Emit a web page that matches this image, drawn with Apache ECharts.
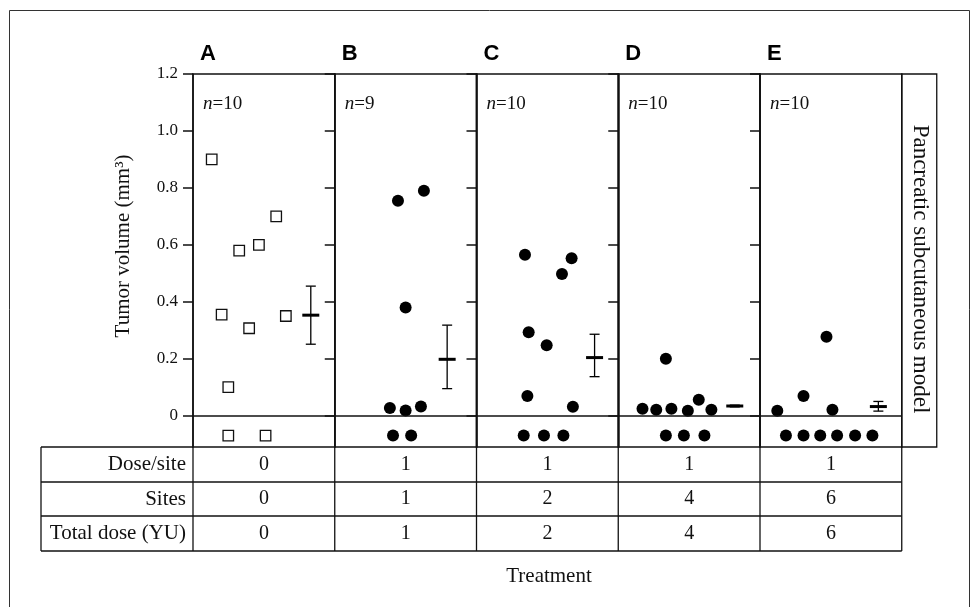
<!DOCTYPE html>
<html>
<head>
<meta charset="utf-8">
<script src="https://cdn.jsdelivr.net/npm/echarts@6/dist/echarts.min.js"></script>
<style>
  html, body { margin: 0; padding: 0; background: #fff; }
  #chart { width: 975px; height: 607px; }
</style>
</head>
<body>
<div id="chart"></div>
<script>
const groups = ['A', 'B', 'C', 'D', 'E'];
const nPerGroup = [10, 9, 10, 10, 10];
const yTicks = [0, 0.2, 0.4, 0.6, 0.8, 1.0, 1.2];

// tumor volume per animal (0 = no tumor, drawn in the strip under the zero line)
// pos = horizontal place of the dot inside its panel (0..10)
const volA = [0.90, 0.355, 0.10, 0.58, 0.307, 0.60, 0.70, 0.35, 0, 0];
const posA = [1.32, 2.02, 2.49, 3.26, 3.96, 4.65, 5.87, 6.55, 2.49, 5.12];
const volB = [0.755, 0.79, 0.38, 0.027, 0.018, 0.032, 0, 0];
const posB = [4.46, 6.29, 5.00, 3.89, 5.00, 6.08, 4.11, 5.39];
const volC = [0.565, 0.553, 0.498, 0.293, 0.247, 0.069, 0.031, 0, 0, 0];
const posC = [3.42, 6.71, 6.03, 3.68, 4.95, 3.59, 6.80, 3.33, 4.76, 6.13];
const volD = [0.20, 0.024, 0.021, 0.024, 0.017, 0.056, 0.021, 0, 0, 0];
const posD = [3.36, 1.71, 2.68, 3.75, 4.91, 5.68, 6.57, 3.36, 4.63, 6.08];
const volE = [0.017, 0.069, 0.277, 0.021, 0, 0, 0, 0, 0, 0];
const posE = [1.22, 3.07, 4.69, 5.11, 1.83, 3.07, 4.25, 5.44, 6.71, 7.93];

// mean with error bar
const meanVol = [0.353, 0.198, 0.204, 0.034, 0.032];
const errLow = [0.251, 0.095, 0.137, 0.031, 0.016];
const errHigh = [0.455, 0.318, 0.286, 0.037, 0.050];
const meanPos = [8.31, 7.93, 8.33, 8.22, 8.35];

// treatment table
const rowLabels = ['Dose/site', 'Sites', 'Total dose (YU)'];
const dosePerSite = [0, 1, 1, 1, 1];
const sites = [0, 1, 2, 4, 6];
const totalDose = [0, 1, 2, 4, 6];

const vols = [volA, volB, volC, volD, volE];
const poss = [posA, posB, posC, posD, posE];

// layout
const LEFT = 193, PW = 141.75, TOP = 74, H = 373;
const YMIN = -0.11, YMAX = 1.2, ZERO_ROW = -0.07;
const TABLE_LEFT = 41, ROWS_Y = [447, 482, 516, 551];
const RIGHT = LEFT + PW * 5;
const SERIF = 'Liberation Serif, Times New Roman, serif';
const INK = '#111';

var chart = echarts.init(document.getElementById('chart'));

var grids = [], xAxes = [], yAxes = [], series = [];
groups.forEach((g, i) => {
    grids.push({
        left: LEFT + PW * i, top: TOP, width: PW, height: H,
        show: true, borderColor: INK, borderWidth: 1.5, backgroundColor: 'transparent',
        containLabel: false, outerBoundsMode: 'none'
    });
    xAxes.push({ type: 'value', gridIndex: i, min: 0, max: 10, show: false });
    yAxes.push({
        type: 'value', gridIndex: i, min: YMIN, max: YMAX,
        axisLine: { show: true, lineStyle: { color: INK, width: 1.5 } },
        axisTick: { show: true, inside: false, length: 10, customValues: yTicks, lineStyle: { color: INK, width: 1.5 } },
        axisLabel: {
            show: i === 0, customValues: yTicks, margin: 15,
            fontFamily: SERIF, fontSize: 17, color: INK,
            formatter: v => v === 0 ? '0' : v.toFixed(1)
        },
        splitLine: { show: false }
    });
    series.push({
        type: 'scatter', xAxisIndex: i, yAxisIndex: i,
        symbol: i === 0 ? 'rect' : 'circle',
        symbolSize: i === 0 ? 10.5 : 12,
        itemStyle: i === 0
            ? { color: '#fff', borderColor: INK, borderWidth: 1.3, opacity: 1 }
            : { color: '#000', opacity: 1 },
        data: vols[i].map((v, k) => [poss[i][k], v === 0 ? ZERO_ROW : v]),
        markLine: {
            silent: true, symbol: 'none', animation: false,
            label: { show: false },
            lineStyle: { color: INK, width: 1.5, type: 'solid' },
            data: [{ yAxis: 0 }]
        },
        z: 3
    });
    series.push({
        type: 'custom', xAxisIndex: i, yAxisIndex: i,
        data: [[meanPos[i], meanVol[i], errLow[i], errHigh[i]]],
        renderItem: function (params, api) {
            var x = api.value(0);
            var pm = api.coord([x, api.value(1)]);
            var pl = api.coord([x, api.value(2)]);
            var ph = api.coord([x, api.value(3)]);
            var st = { stroke: '#000', lineWidth: 1.3 };
            return {
                type: 'group',
                children: [
                    { type: 'line', shape: { x1: pl[0], y1: pl[1], x2: ph[0], y2: ph[1] }, style: st },
                    { type: 'line', shape: { x1: pl[0] - 5, y1: pl[1], x2: pl[0] + 5, y2: pl[1] }, style: st },
                    { type: 'line', shape: { x1: ph[0] - 5, y1: ph[1], x2: ph[0] + 5, y2: ph[1] }, style: st },
                    { type: 'line', shape: { x1: pm[0] - 8.5, y1: pm[1], x2: pm[0] + 8.5, y2: pm[1] }, style: { stroke: '#000', lineWidth: 3 } }
                ]
            };
        },
        z: 4
    });
});

var graphics = [];
// outer frame
graphics.push({ type: 'rect', shape: { x: 9.5, y: 10.5, width: 960, height: 620 }, style: { fill: 'none', stroke: '#333', lineWidth: 1 }, silent: true });
// panel letters and n
groups.forEach((g, i) => {
    var px = LEFT + PW * i;
    graphics.push({ type: 'text', x: px + 7, y: 54, silent: true,
        style: { text: g, fontFamily: 'Liberation Sans, Arial, sans-serif', fontWeight: 'bold', fontSize: 22, fill: '#000', align: 'left', verticalAlign: 'middle', textAlign: 'left', textVerticalAlign: 'middle' } });
    graphics.push({ type: 'text', x: px + 10, y: 104, silent: true,
        style: { text: '{i|n}=' + nPerGroup[i], fontFamily: SERIF, fontSize: 19, fill: INK, align: 'left', verticalAlign: 'middle', textAlign: 'left', textVerticalAlign: 'middle',
            rich: { i: { fontStyle: 'italic', fontFamily: SERIF, fontSize: 19, fill: INK } } } });
});
// y axis name
graphics.push({ type: 'text', x: 123, y: 246, rotation: Math.PI / 2, silent: true,
    style: { text: 'Tumor volume (mm³)', fontFamily: SERIF, fontSize: 21, fill: INK, align: 'center', verticalAlign: 'middle', textAlign: 'center', textVerticalAlign: 'middle' } });
// right side label box
graphics.push({ type: 'rect', shape: { x: RIGHT, y: TOP, width: 35, height: H }, style: { fill: 'none', stroke: INK, lineWidth: 1.3 }, silent: true });
graphics.push({ type: 'text', x: RIGHT + 18.5, y: 269, rotation: -Math.PI / 2, silent: true,
    style: { text: 'Pancreatic subcutaneous model', fontFamily: SERIF, fontSize: 23, fill: INK, align: 'center', verticalAlign: 'middle', textAlign: 'center', textVerticalAlign: 'middle' } });
// table
var tableRows = [dosePerSite, sites, totalDose];
graphics.push({ type: 'line', shape: { x1: TABLE_LEFT, y1: ROWS_Y[0], x2: LEFT, y2: ROWS_Y[0] }, style: { stroke: INK, lineWidth: 1.5 }, silent: true });
for (var r = 1; r < ROWS_Y.length; r++) {
    graphics.push({ type: 'line', shape: { x1: TABLE_LEFT, y1: ROWS_Y[r], x2: RIGHT, y2: ROWS_Y[r] }, style: { stroke: INK, lineWidth: 1.3 }, silent: true });
}
var colX = [TABLE_LEFT];
for (var c = 0; c <= groups.length; c++) colX.push(LEFT + PW * c);
colX.forEach(x => {
    graphics.push({ type: 'line', shape: { x1: x, y1: ROWS_Y[0], x2: x, y2: ROWS_Y[3] }, style: { stroke: INK, lineWidth: 1.3 }, silent: true });
});
rowLabels.forEach((lab, r) => {
    var cy = (ROWS_Y[r] + ROWS_Y[r + 1]) / 2;
    graphics.push({ type: 'text', x: LEFT - 7, y: cy, silent: true,
        style: { text: lab, fontFamily: SERIF, fontSize: 21, fill: INK, align: 'right', verticalAlign: 'middle', textAlign: 'right', textVerticalAlign: 'middle' } });
    tableRows[r].forEach((v, i) => {
        graphics.push({ type: 'text', x: LEFT + PW * (i + 0.5), y: cy, silent: true,
            style: { text: String(v), fontFamily: SERIF, fontSize: 20, fill: INK, align: 'center', verticalAlign: 'middle', textAlign: 'center', textVerticalAlign: 'middle' } });
    });
});
graphics.push({ type: 'text', x: 549, y: 576, silent: true,
    style: { text: 'Treatment', fontFamily: SERIF, fontSize: 21, fill: INK, align: 'center', verticalAlign: 'middle', textAlign: 'center', textVerticalAlign: 'middle' } });

var option = {
    backgroundColor: '#fff',
    animation: false,
    grid: grids,
    xAxis: xAxes,
    yAxis: yAxes,
    series: series,
    graphic: { elements: graphics }
};
chart.setOption(option);
</script>
</body>
</html>
